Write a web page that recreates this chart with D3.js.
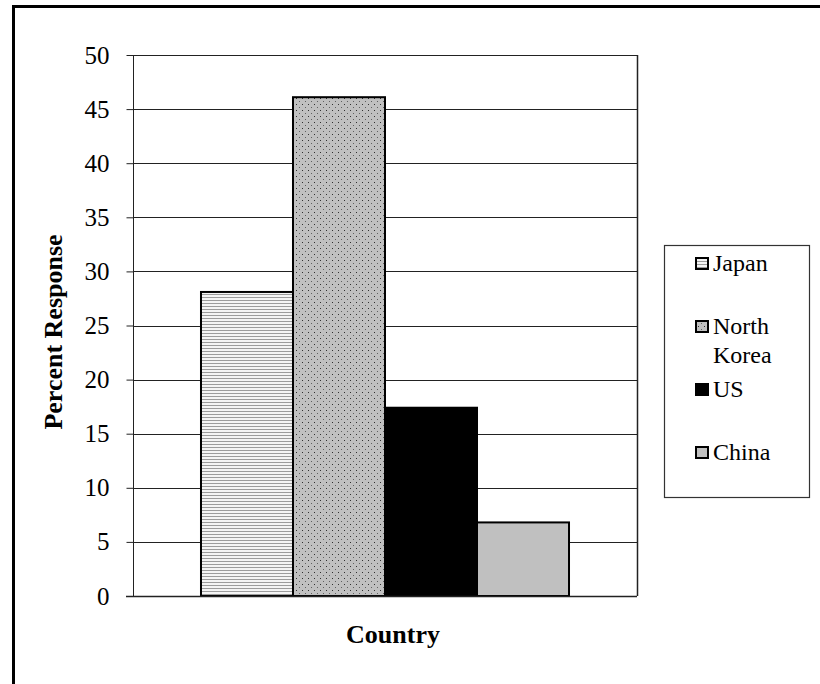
<!DOCTYPE html>
<html>
<head>
<meta charset="utf-8">
<script src="https://cdn.jsdelivr.net/npm/d3@7"></script>
<style>
  html, body { margin: 0; padding: 0; background: #fff; overflow: hidden; }
  svg { display: block; }
</style>
</head>
<body>
<svg id="chart" width="820" height="684"></svg>
<script>
const categories = ["Japan", "North Korea", "US", "China"];
const values = [28.1, 46.1, 17.4, 6.8];
const yTicks = [0, 5, 10, 15, 20, 25, 30, 35, 40, 45, 50];
const legendLines = [["Japan"], ["North", "Korea"], ["US"], ["China"]];
const fills = ["url(#stripes)", "url(#dots)", "#000000", "#c0c0c0"];
const SERIF = "'Liberation Serif', 'Times New Roman', Times, serif";

const svg = d3.select("#chart");
const defs = svg.append("defs");

const stripes = defs.append("pattern").attr("id", "stripes")
  .attr("patternUnits", "userSpaceOnUse").attr("width", 4).attr("height", 3);
stripes.append("rect").attr("width", 4).attr("height", 3).attr("fill", "#f4f4f4");
stripes.append("rect").attr("y", 0).attr("width", 4).attr("height", 1).attr("fill", "#9c9c9c");

const dots = defs.append("pattern").attr("id", "dots")
  .attr("patternUnits", "userSpaceOnUse").attr("width", 6).attr("height", 6);
dots.append("rect").attr("width", 6).attr("height", 6).attr("fill", "#c0c0c0");
dots.append("rect").attr("x", 2).attr("y", 2).attr("width", 1).attr("height", 1).attr("fill", "#303030");
dots.append("rect").attr("x", 5).attr("y", 5).attr("width", 1).attr("height", 1).attr("fill", "#606060");

// outer frame
svg.append("rect").attr("x", 13.5).attr("y", 6.5).attr("width", 830).attr("height", 700)
  .attr("fill", "none").attr("stroke", "#000").attr("stroke-width", 3);

const pLeft = 133, pRight = 637, pTop = 55, pBottom = 596;

const y = d3.scaleLinear().domain([0, 50]).range([pBottom, pTop]);
const x = d3.scaleBand().domain(categories).range([pLeft, pRight])
  .paddingInner(0).paddingOuter(0.739);

// gridlines
svg.append("g").selectAll("line").data(yTicks.filter(d => d > 0)).join("line")
  .attr("x1", pLeft).attr("x2", pRight)
  .attr("y1", d => Math.round(y(d)) + 0.5).attr("y2", d => Math.round(y(d)) + 0.5)
  .attr("stroke", "#222").attr("stroke-width", 1);
// right border
svg.append("line").attr("x1", pRight + 0.5).attr("x2", pRight + 0.5)
  .attr("y1", pTop).attr("y2", pBottom).attr("stroke", "#222").attr("stroke-width", 1.5);

// y axis
const yAxis = svg.append("g").attr("transform", `translate(${pLeft + 0.5},0)`)
  .call(d3.axisLeft(y).tickValues(yTicks).tickSize(7).tickPadding(17).tickFormat(d3.format("d")));
yAxis.attr("font-family", null).attr("font-size", null);
yAxis.select(".domain").attr("stroke", "#222").attr("d", `M0,${pTop}V${pBottom}`);
yAxis.selectAll(".tick line").attr("stroke", "#222");
yAxis.selectAll(".tick text").style("font-family", SERIF).style("font-size", "25px").attr("fill", "#000");

// bars
svg.append("g").selectAll("rect").data(values).join("rect")
  .attr("x", (d, i) => x(categories[i]))
  .attr("y", d => y(d))
  .attr("width", x.bandwidth())
  .attr("height", d => pBottom - y(d))
  .attr("fill", (d, i) => fills[i])
  .attr("stroke", "#000").attr("stroke-width", 2);

// x axis line
svg.append("line").attr("x1", pLeft - 7).attr("x2", pRight)
  .attr("y1", pBottom + 0.5).attr("y2", pBottom + 0.5).attr("stroke", "#222").attr("stroke-width", 1.5);

// axis titles
svg.append("text").attr("x", (pLeft + pRight) / 2 + 8).attr("y", 643)
  .attr("text-anchor", "middle").style("font-family", SERIF).style("font-size", "26px")
  .style("font-weight", "bold").text("Country");
svg.append("text").attr("transform", `translate(62,332) rotate(-90)`)
  .attr("text-anchor", "middle").style("font-family", SERIF).style("font-size", "26px")
  .style("font-weight", "bold").text("Percent Response");

// legend
svg.append("rect").attr("x", 664.5).attr("y", 245.5).attr("width", 145).attr("height", 252)
  .attr("fill", "#fff").attr("stroke", "#333").attr("stroke-width", 1.2);
const legendBase = [271, 334, 397, 460];
const lg = svg.append("g");
categories.forEach((c, i) => {
  const b = legendBase[i];
  lg.append("rect").attr("x", 696).attr("y", b - 13).attr("width", 12).attr("height", 11)
    .attr("fill", fills[i]).attr("stroke", "#000").attr("stroke-width", 2);
  legendLines[i].forEach((t, j) => {
    lg.append("text").attr("x", 713).attr("y", b + j * 29)
      .style("font-family", SERIF).style("font-size", "24px").text(t);
  });
});
</script>
</body>
</html>
